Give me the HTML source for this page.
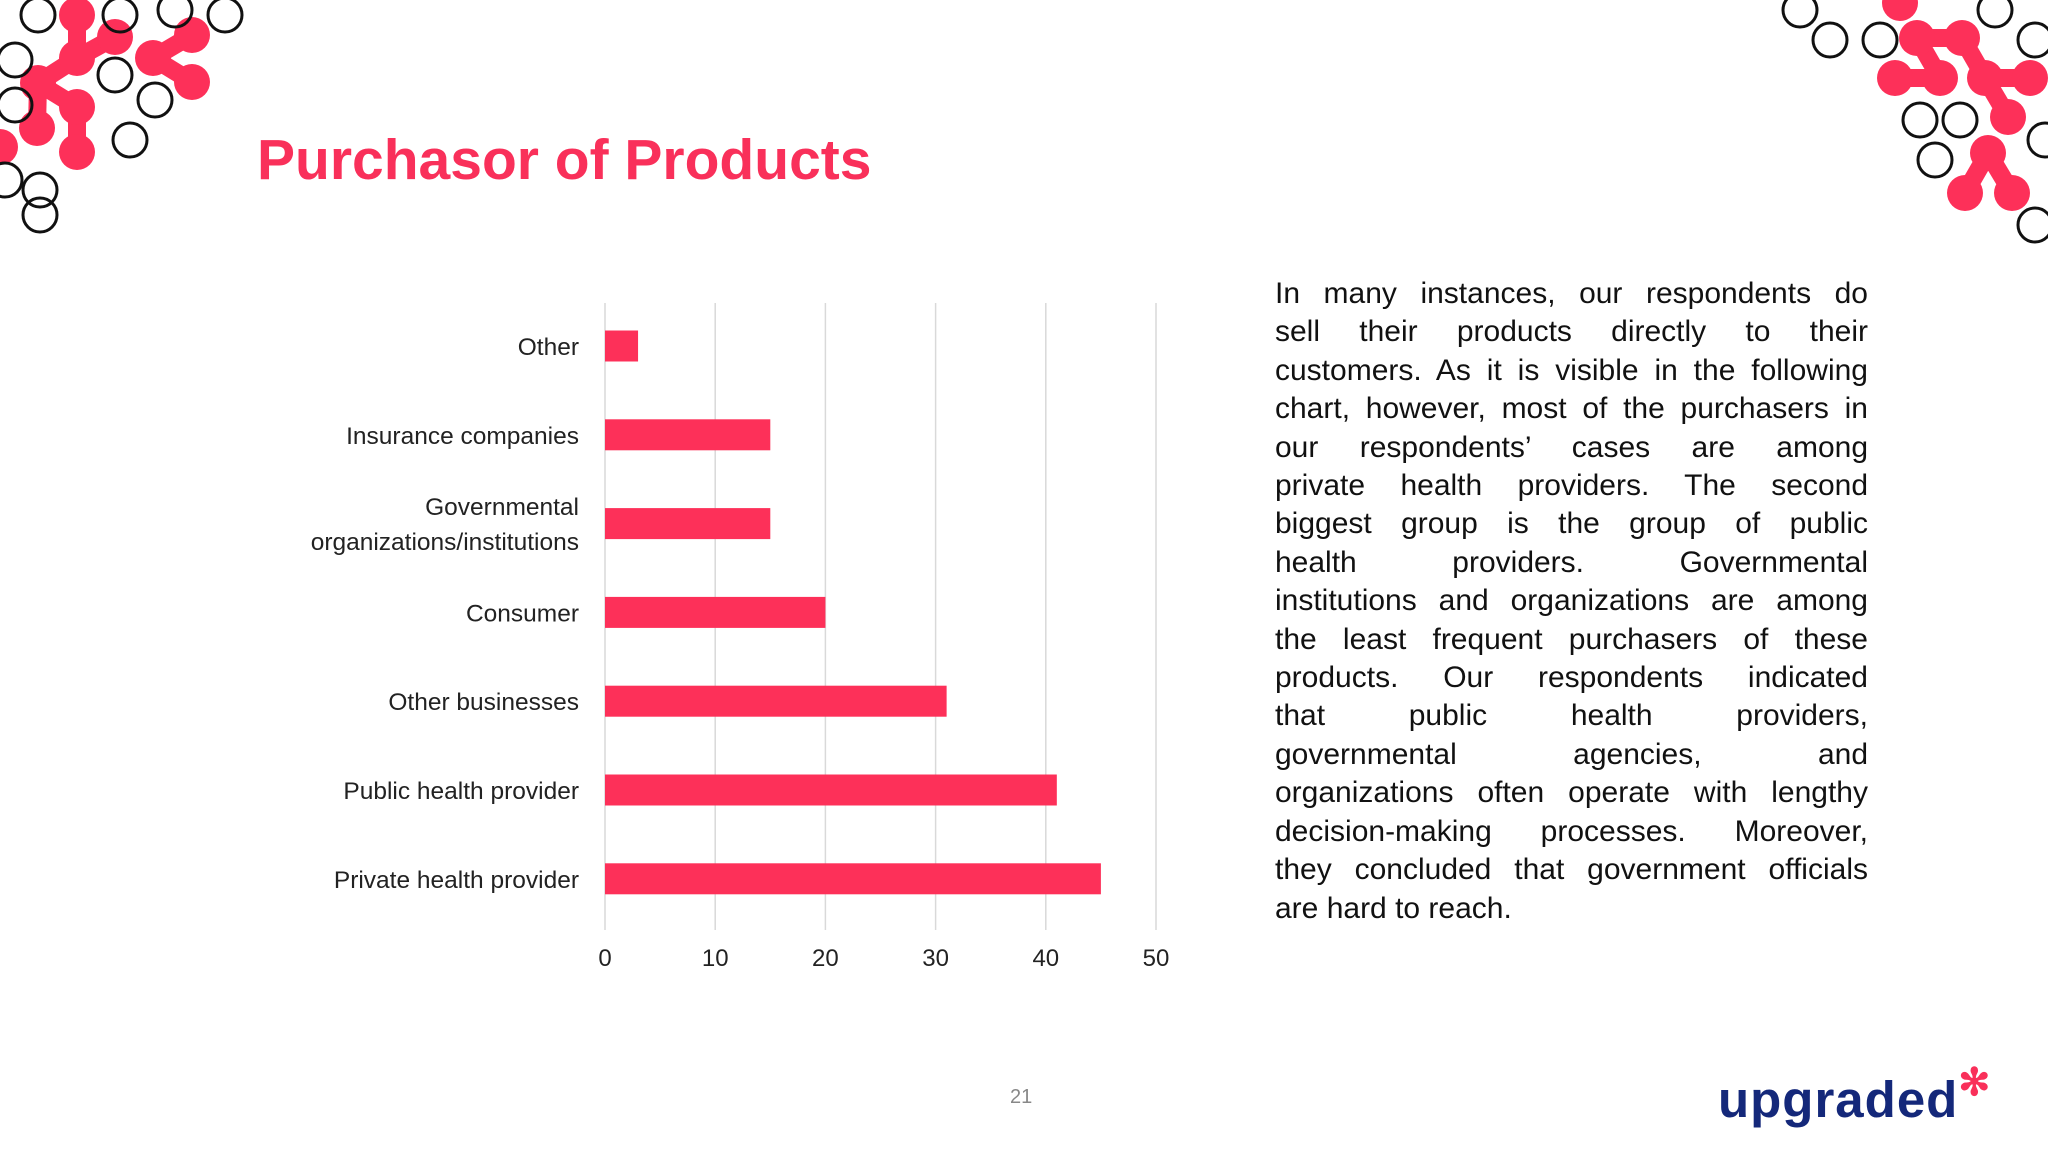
<!DOCTYPE html>
<html><head><meta charset="utf-8"><style>
body{margin:0;width:2048px;height:1152px;background:#fff;overflow:hidden;position:relative;font-family:"Liberation Sans",sans-serif}
#title{position:absolute;left:257px;top:125px;font-size:57px;font-weight:bold;color:#f9305a;margin:0;line-height:70px}
#para{position:absolute;left:1275px;top:275px;width:593px;font-size:30px;line-height:38.4px;color:#111}
#para div{text-align:justify;text-align-last:justify;white-space:nowrap;overflow:visible}
#para div.last{text-align-last:left}
#pnum{position:absolute;left:1010px;top:1086px;font-size:20px;color:#888}
#logo{position:absolute;left:1718px;top:1060px;font-size:51px;font-weight:bold;color:#14287a;letter-spacing:1px}
svg{position:absolute;left:0;top:0}
</style></head><body>
<svg id="deco" width="2048" height="1152"></svg>
<h1 id="title">Purchasor of Products</h1>
<svg id="chart" width="1250" height="1000"></svg>
<div id="para">
<div>In many instances, our respondents do</div>
<div>sell their products directly to their</div>
<div>customers. As it is visible in the following</div>
<div>chart, however, most of the purchasers in</div>
<div>our respondents’ cases are among</div>
<div>private health providers. The second</div>
<div>biggest group is the group of public</div>
<div>health providers. Governmental</div>
<div>institutions and organizations are among</div>
<div>the least frequent purchasers of these</div>
<div>products. Our respondents indicated</div>
<div>that public health providers,</div>
<div>governmental agencies, and</div>
<div>organizations often operate with lengthy</div>
<div>decision-making processes. Moreover,</div>
<div>they concluded that government officials</div>
<div class="last">are hard to reach.</div>
</div>
<div id="pnum">21</div>
<div id="logo">upgraded<span style="color:#f9305a;font-size:38px;vertical-align:22px">✻</span></div>
<script>
const categories=["Other","Insurance companies","Governmental|organizations/institutions","Consumer","Other businesses","Public health provider","Private health provider"];
const values=[3,15,15,20,31,41,45];
const ticks=[0,10,20,30,40,50];
const NS="http://www.w3.org/2000/svg";
const svg=document.getElementById('chart');
const x0=605,x1=1156,vmax=50,yTop=303,yBot=930,band=88.8,firstY=346,barH=31;
const xs=v=>x0+(x1-x0)*v/vmax;
const ys=i=>firstY+i*band;
function mk(t,a){const e=document.createElementNS(NS,t);for(const k in a)e.setAttribute(k,a[k]);svg.appendChild(e);return e;}
ticks.forEach(t=>{
 const g=mk('line',{x1:xs(t),x2:xs(t),y1:yTop,y2:yBot,stroke:'#d9d9d9','stroke-width':1.5});
 
 
 const l=mk('text',{x:xs(t),y:966,'text-anchor':'middle','font-size':24,fill:'#222','font-family':'Liberation Sans'});
 l.textContent=t;
 
 
});
categories.forEach((c,i)=>{
 const b=mk('rect',{x:x0,y:ys(i)-barH/2,width:xs(values[i])-x0,height:barH,fill:'#fd3059'});
 
 
 const parts=c.split('|');
 parts.forEach((p,j)=>{
  const t=mk('text',{x:579,y:ys(i)+9+(j-(parts.length-1)/2)*35,'text-anchor':'end','font-size':24.5,fill:'#222','font-family':'Liberation Sans'});
  t.textContent=p;
  
  
 });
});
const d=document.getElementById('deco');
function dk(t,a){const e=document.createElementNS(NS,t);for(const k in a)e.setAttribute(k,a[k]);d.appendChild(e);return e;}
function blob(pts,links){links.forEach(([a,b])=>dk('line',{x1:pts[a][0],y1:pts[a][1],x2:pts[b][0],y2:pts[b][1],stroke:'#fd3059','stroke-width':18}));pts.forEach(p=>dk('circle',{cx:p[0],cy:p[1],r:18,fill:'#fd3059'}));}
function ring(pts){pts.forEach(p=>dk('circle',{cx:p[0],cy:p[1],r:17,fill:'none',stroke:'#111','stroke-width':3}));}
blob([[77,15],[115,37],[77,58],[38,83],[77,107],[37,128],[77,152],[0,147]],[[0,2],[1,2],[2,3],[3,4],[3,5],[4,6]]);
blob([[192,35],[153,58],[192,82]],[[0,1],[1,2]]);
blob([[1900,3],[1917,38],[1962,38],[1895,78],[1940,78],[1985,78],[2030,78],[2008,117]],[[1,2],[3,4],[2,5],[5,6],[5,7],[1,4]]);
blob([[1988,153],[1965,193],[2012,193]],[[0,1],[0,2]]);
ring([[38,15],[115,75],[15,60],[15,105],[130,140],[155,100],[40,190],[40,215],[120,15],[175,10],[225,15],[5,180]]);
ring([[1830,40],[1880,40],[1920,120],[1960,120],[1935,160],[2035,40],[1995,10],[2045,140],[2035,225],[1800,10]]);
</script>
</body></html>
